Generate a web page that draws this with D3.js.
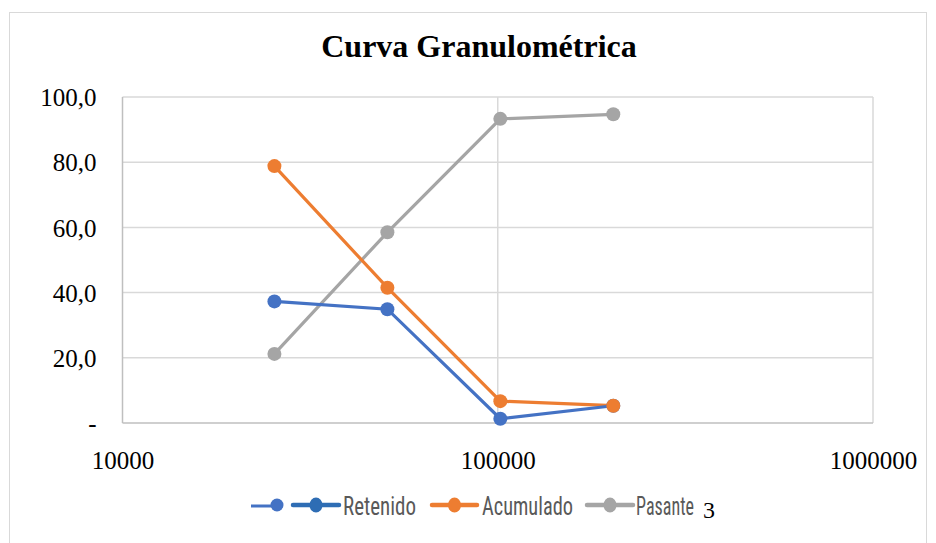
<!DOCTYPE html>
<html><head><meta charset="utf-8">
<script src="https://cdn.jsdelivr.net/npm/d3@7"></script>
<style>body{margin:0;background:#fff}svg{display:block}</style>
</head><body>
<svg id="c" width="936" height="543"></svg>
<script>
const sizes = [25400, 50800, 101600, 203200];
const retenido = [37.3, 34.9, 1.3, 5.3];
const acumulado = [78.8, 41.5, 6.7, 5.3];
const pasante = [21.2, 58.5, 93.3, 94.7];
const xTicks = [10000, 100000, 1000000];
const yTicks = [0, 20, 40, 60, 80, 100];
const yTickLabels = ["-", "20,0", "40,0", "60,0", "80,0", "100,0"];
const seriesNames = ["Retenido", "Acumulado", "Pasante"];
const title = "Curva Granulométrica";

const svg = d3.select("#c");
const W = 936, H = 543;
const L = 122.5, R = 873, T = 97, B = 423;
const x = d3.scaleLog().domain([1e4, 1e6]).range([L, R]);
const y = d3.scaleLinear().domain([0, 100]).range([B, T]);

svg.append("rect").attr("x", 0).attr("y", 0).attr("width", W).attr("height", H).attr("fill", "#fff");
svg.append("rect").attr("x", 9.5).attr("y", 12.5).attr("width", 917).attr("height", 540)
  .attr("fill", "none").attr("stroke", "#d9d9d9").attr("stroke-width", 1);

svg.append("text").attr("x", 479).attr("y", 57).attr("text-anchor", "middle")
  .attr("font-family", "Liberation Serif").attr("font-weight", "bold").attr("font-size", 32)
  .attr("fill", "#000").text(title);

// grid
const grid = svg.append("g");
grid.selectAll("line.h").data(yTicks.filter(d => d > 0)).join("line")
  .attr("x1", L).attr("x2", R).attr("y1", d => y(d)).attr("y2", d => y(d))
  .attr("stroke", "#d9d9d9").attr("stroke-width", 1.5);
grid.selectAll("line.v").data(xTicks.slice(1)).join("line")
  .attr("x1", d => x(d)).attr("x2", d => x(d)).attr("y1", T).attr("y2", B)
  .attr("stroke", "#d9d9d9").attr("stroke-width", 1.5);
// axes lines
svg.append("line").attr("x1", L).attr("x2", L).attr("y1", T).attr("y2", B).attr("stroke", "#bfbfbf").attr("stroke-width", 1.5);
svg.append("line").attr("x1", L).attr("x2", R).attr("y1", B).attr("y2", B).attr("stroke", "#bfbfbf").attr("stroke-width", 1.5);

// y labels
const yAxis = d3.axisLeft(y).tickValues(yTicks).tickSize(0).tickPadding(0)
  .tickFormat((d, i) => yTickLabels[i]);
const gy = svg.append("g").attr("transform", `translate(${L - 26},0)`).call(yAxis);
gy.select(".domain").remove();
gy.selectAll("text").attr("font-family", "Liberation Serif").attr("font-size", 25).attr("fill", "#000").attr("dy", "0.35em");

// x labels
const xAxis = d3.axisBottom(x).tickValues(xTicks).tickSize(0).tickPadding(0).tickFormat(d3.format("d"));
const gx = svg.append("g").attr("transform", `translate(0,${B + 28})`).call(xAxis);
gx.select(".domain").remove();
gx.selectAll("text").attr("font-family", "Liberation Serif").attr("font-size", 25).attr("fill", "#000").attr("dy", "0.71em");

const colors = ["#4472C4", "#ED7D31", "#A5A5A5"];
const data = [retenido, acumulado, pasante];
const line = d3.line().x((d, i) => x(sizes[i])).y(d => y(d));
const order = [2, 1, 0];
order.forEach(k => {
  svg.append("path").attr("d", line(data[k])).attr("fill", "none").attr("stroke", colors[k]).attr("stroke-width", 3.2);
});
[0, 1, 2].forEach(k => {
  svg.append("g").selectAll("circle").data(data[k]).join("circle")
    .attr("cx", (d, i) => x(sizes[i])).attr("cy", d => y(d)).attr("r", 7).attr("fill", colors[k]);
});

// legend
const ly = 505;
const lg = svg.append("g");
lg.append("line").attr("x1", 251).attr("x2", 283).attr("y1", ly + 1).attr("y2", ly + 1).attr("stroke", "#4472C4").attr("stroke-width", 3);
lg.append("circle").attr("cx", 277).attr("cy", ly).attr("r", 6.5).attr("fill", "#4472C4");
const items = [
  {x1: 293, x2: 339, c: "#2E6DB4", name: seriesNames[0], tx: 343, tw: 73},
  {x1: 432, x2: 477, c: "#ED7D31", name: seriesNames[1], tx: 482, tw: 91},
  {x1: 587, x2: 633, c: "#A5A5A5", name: seriesNames[2], tx: 636, tw: 58}
];
items.forEach(it => {
  lg.append("line").attr("x1", it.x1).attr("x2", it.x2).attr("y1", ly).attr("y2", ly).attr("stroke", it.c).attr("stroke-width", 4.5).attr("stroke-linecap", "round");
  lg.append("ellipse").attr("cx", (it.x1 + it.x2) / 2).attr("cy", ly).attr("rx", 6.5).attr("ry", 7.5).attr("fill", it.c);
  lg.append("g").attr("transform", `translate(${it.tx},${ly + 10}) scale(1,1.3)`)
    .append("text").attr("x", 0).attr("y", 0).attr("font-family", "Liberation Sans Narrow, Roboto Condensed, sans-serif")
    .attr("font-size", 20).attr("fill", "#595959").attr("textLength", it.tw).attr("lengthAdjust", "spacingAndGlyphs").text(it.name);
});
lg.append("text").attr("x", 703).attr("y", ly + 13).attr("font-family", "Liberation Serif").attr("font-size", 24).attr("fill", "#000").text("3");
</script>
</body></html>
